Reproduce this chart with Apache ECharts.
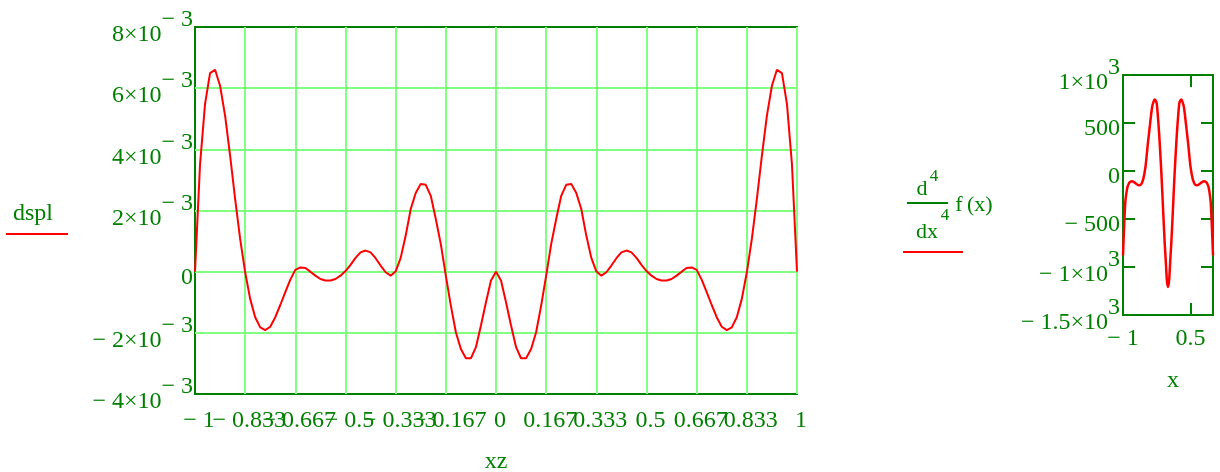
<!DOCTYPE html>
<html>
<head>
<meta charset="utf-8">
<title>dspl</title>
<script src="https://cdn.jsdelivr.net/npm/echarts@6/dist/echarts.min.js"></script>
<style>
  html, body { margin: 0; padding: 0; background: #ffffff; }
  #chart { width: 1220px; height: 472px; }
</style>
</head>
<body>
<div id="chart"></div>
<script>
// Range variable xz = -1, -1 + 1/60 .. 1
const xz = [
  -1, -0.9833, -0.9667, -0.95, -0.9333, -0.9167, -0.9, -0.8833, -0.8667, -0.85,
  -0.8333, -0.8167, -0.8, -0.7833, -0.7667, -0.75, -0.7333, -0.7167, -0.7, -0.6833,
  -0.6667, -0.65, -0.6333, -0.6167, -0.6, -0.5833, -0.5667, -0.55, -0.5333, -0.5167,
  -0.5, -0.4833, -0.4667, -0.45, -0.4333, -0.4167, -0.4, -0.3833, -0.3667, -0.35,
  -0.3333, -0.3167, -0.3, -0.2833, -0.2667, -0.25, -0.2333, -0.2167, -0.2, -0.1833,
  -0.1667, -0.15, -0.1333, -0.1167, -0.1, -0.0833, -0.0667, -0.05, -0.0333, -0.0167,
  0,
  0.0167, 0.0333, 0.05, 0.0667, 0.0833, 0.1, 0.1167, 0.1333, 0.15, 0.1667,
  0.1833, 0.2, 0.2167, 0.2333, 0.25, 0.2667, 0.2833, 0.3, 0.3167, 0.3333,
  0.35, 0.3667, 0.3833, 0.4, 0.4167, 0.4333, 0.45, 0.4667, 0.4833, 0.5,
  0.5167, 0.5333, 0.55, 0.5667, 0.5833, 0.6, 0.6167, 0.6333, 0.65, 0.6667,
  0.6833, 0.7, 0.7167, 0.7333, 0.75, 0.7667, 0.7833, 0.8, 0.8167, 0.8333,
  0.85, 0.8667, 0.8833, 0.9, 0.9167, 0.9333, 0.95, 0.9667, 0.9833, 1
];

// dspl(xz), in units of 1e-3
const dsplMilli = [
  0, 3.50, 5.48, 6.49, 6.60, 6.08, 5.10, 3.79, 2.38, 1.07,
  -0.02, -0.89, -1.49, -1.82, -1.91, -1.80, -1.49, -1.09, -0.67, -0.26,
  0.06, 0.14, 0.12, 0.00, -0.13, -0.24, -0.29, -0.29, -0.24, -0.13,
  0.02, 0.22, 0.45, 0.63, 0.69, 0.63, 0.44, 0.20, -0.02, -0.13,
  0.01, 0.45, 1.18, 2.05, 2.57, 2.87, 2.84, 2.48, 1.72, 0.90,
  -0.13, -1.11, -1.98, -2.53, -2.83, -2.83, -2.47, -1.76, -1.00, -0.29,
  0.00,
  -0.29, -1.00, -1.76, -2.47, -2.83, -2.83, -2.53, -1.98, -1.11, -0.13,
  0.90, 1.72, 2.48, 2.84, 2.87, 2.57, 2.05, 1.18, 0.45, 0.01,
  -0.13, -0.02, 0.20, 0.44, 0.63, 0.69, 0.63, 0.45, 0.22, 0.02,
  -0.13, -0.24, -0.29, -0.29, -0.24, -0.13, 0.00, 0.12, 0.14, 0.06,
  -0.26, -0.67, -1.09, -1.49, -1.80, -1.91, -1.82, -1.49, -0.89, -0.02,
  1.07, 2.38, 3.79, 5.10, 6.08, 6.60, 6.49, 5.48, 3.50, 0
];

const xzTickLabels = ['\u2212 1', '\u2212 0.833', '\u2212 0.667', '\u2212 0.5', '\u2212 0.333', '\u2212 0.167', '0',
  '0.167', '0.333', '0.5', '0.667', '0.833', '1'];
const dsplTickMantissa = ['\u2212 4\u00d710', '\u2212 2\u00d710', '0', '2\u00d710', '4\u00d710', '6\u00d710', '8\u00d710'];
const dsplTickExponent = ['\u2212 3', '\u2212 3', '', '\u2212 3', '\u2212 3', '\u2212 3', '\u2212 3'];

// Fourth derivative of f, sampled over x in [-1, 1]
const x = [
  -1, -0.975, -0.95, -0.925, -0.9, -0.875, -0.85, -0.8, -0.75, -0.7, -0.65, -0.6,
  -0.55, -0.5, -0.45, -0.4, -0.375, -0.35, -0.325, -0.3, -0.275, -0.25, -0.225, -0.2,
  -0.175, -0.15, -0.125, -0.1, -0.075, -0.05, -0.025, 0,
  0.025, 0.05, 0.075, 0.1, 0.125, 0.15, 0.175, 0.2, 0.225, 0.25, 0.275, 0.3,
  0.325, 0.35, 0.375, 0.4, 0.45, 0.5, 0.55, 0.6, 0.65, 0.7, 0.75, 0.8,
  0.85, 0.875, 0.9, 0.925, 0.95, 0.975, 1
];
const f4 = [
  -880, -580, -330, -230, -165, -135, -118, -108, -118, -135, -148, -140,
  -85, 45, 275, 485, 588, 675, 715, 744, 735, 702, 570, 410,
  215, 0, -240, -495, -735, -935, -1140, -1208,
  -1140, -935, -735, -495, -240, 0, 215, 410, 570, 702, 735, 744,
  715, 675, 588, 485, 275, 45, -85, -140, -148, -135, -118, -108,
  -118, -135, -165, -230, -330, -580, -880
];

const f4TickMantissa = ['\u2212 1.5\u00d710', '\u2212 1\u00d710', '\u2212 500', '0', '500', '1\u00d710'];
const f4TickExponent = ['3', '3', '', '', '', '3'];
const f4XTicks = [-1, 0.5];
const f4XTickLabels = ['\u2212 1', '0.5'];

const FONT = 'Liberation Serif';
const GREEN = '#008000';
const GRID_GREEN = '#80ff80';
const RED = '#ff0000';

// mantissa sits a little below the tick, exponent raised above it
const richLabels = {
  m: { fontFamily: FONT, fontSize: 24, color: GREEN, lineHeight: 40, padding: [0, 0, 0, 0], verticalAlign: 'bottom' },
  s: { fontFamily: FONT, fontSize: 24, color: GREEN, lineHeight: 40, padding: [0, 0, 15, 0], verticalAlign: 'bottom' },
  z: { fontFamily: FONT, fontSize: 24, color: GREEN, lineHeight: 40, padding: [0, 0, 2, 0], verticalAlign: 'bottom' }
};

function sciLabel(mant, exp) {
  return exp ? '{m|' + mant + '}{s|' + exp + '}' : '{z|' + mant + '}';
}

const chart = echarts.init(document.getElementById('chart'), null, { renderer: 'canvas' });

const tickStyle = { show: true, inside: true, length: 12, lineStyle: { color: GREEN, width: 2 } };
const noLine = { show: false, onZero: false };
const xzLabelStyle = { margin: 15, fontFamily: FONT, fontSize: 24, color: GREEN, padding: [0, 0, 0, 8] };

chart.setOption({
  animation: false,
  backgroundColor: '#ffffff',
  textStyle: { fontFamily: FONT },
  grid: [
    { left: 195, top: 27, width: 602, height: 367, show: true, borderColor: GREEN, borderWidth: 2,
      backgroundColor: 'transparent', containLabel: false, outerBoundsMode: 'none' },
    { left: 1123, top: 75, width: 90, height: 240, show: true, borderColor: GREEN, borderWidth: 2,
      backgroundColor: 'transparent', containLabel: false, outerBoundsMode: 'none' }
  ],
  xAxis: [
    {
      // xz axis: grid lines and every tick label but the leftmost
      gridIndex: 0, type: 'value', min: -1, max: 1, interval: 1 / 6,
      axisLine: noLine, axisTick: { show: false },
      splitLine: { show: true, showMinLine: false, showMaxLine: false, lineStyle: { color: GRID_GREEN, width: 2 } },
      axisLabel: Object.assign({
        showMinLabel: false, showMaxLabel: true,
        formatter: function (v) { return xzTickLabels[Math.round((v + 1) * 6)]; }
      }, xzLabelStyle),
      name: 'xz', nameLocation: 'middle', nameGap: 56,
      nameTextStyle: { fontFamily: FONT, fontSize: 24, color: GREEN }
    },
    {
      gridIndex: 1, type: 'value', min: -1, max: 1, position: 'bottom',
      axisLine: noLine, splitLine: { show: false },
      axisTick: Object.assign({ customValues: f4XTicks }, tickStyle),
      axisLabel: {
        customValues: f4XTicks, margin: 12, fontFamily: FONT, fontSize: 24, color: GREEN,
        showMinLabel: true, showMaxLabel: true,
        formatter: function (v) { return f4XTickLabels[f4XTicks.indexOf(v)]; }
      },
      name: 'x', nameLocation: 'middle', nameGap: 54,
      nameTextStyle: { fontFamily: FONT, fontSize: 24, color: GREEN, padding: [0, 0, 0, 10] }
    },
    {
      gridIndex: 1, type: 'value', min: -1, max: 1, position: 'top',
      axisLine: noLine, splitLine: { show: false },
      axisTick: Object.assign({ customValues: f4XTicks }, tickStyle),
      axisLabel: { show: false }
    },
    {
      // xz axis: the leftmost tick label, kept even where it overlaps its neighbour
      gridIndex: 0, type: 'value', min: -1, max: 1, position: 'bottom',
      axisLine: noLine, axisTick: { show: false }, splitLine: { show: false },
      axisLabel: Object.assign({
        customValues: [-1], showMinLabel: true,
        formatter: function (v) { return xzTickLabels[Math.round((v + 1) * 6)]; }
      }, xzLabelStyle)
    }
  ],
  yAxis: [
    {
      gridIndex: 0, type: 'value', min: -0.004, max: 0.008, interval: 0.002,
      axisLine: noLine, axisTick: { show: false },
      splitLine: { show: true, showMinLine: false, showMaxLine: false, lineStyle: { color: GRID_GREEN, width: 2 } },
      axisLabel: {
        margin: 2, rich: richLabels, showMinLabel: true, showMaxLabel: true,
        formatter: function (v) {
          const i = Math.round((v + 0.004) / 0.002);
          return sciLabel(dsplTickMantissa[i], dsplTickExponent[i]);
        }
      }
    },
    {
      gridIndex: 1, type: 'value', min: -1500, max: 1000, interval: 500, position: 'left',
      axisLine: noLine, splitLine: { show: false },
      axisTick: tickStyle,
      axisLabel: {
        margin: 3, rich: richLabels, showMinLabel: true, showMaxLabel: true,
        formatter: function (v) {
          const i = Math.round((v + 1500) / 500);
          return sciLabel(f4TickMantissa[i], f4TickExponent[i]);
        }
      }
    },
    {
      gridIndex: 1, type: 'value', min: -1500, max: 1000, interval: 500, position: 'right',
      axisLine: noLine, splitLine: { show: false },
      axisTick: tickStyle, axisLabel: { show: false }
    }
  ],
  series: [
    {
      type: 'line', xAxisIndex: 0, yAxisIndex: 0, showSymbol: false, smooth: false,
      lineStyle: { color: RED, width: 2 },
      data: xz.map(function (v, i) { return [v, dsplMilli[i] * 1e-3]; }),
      z: 3
    },
    {
      type: 'line', xAxisIndex: 1, yAxisIndex: 1, showSymbol: false, smooth: 0.25,
      lineStyle: { color: RED, width: 2.5 },
      data: x.map(function (v, i) { return [v, f4[i]]; }),
      z: 3
    }
  ],
  graphic: [
    // trace label of the left plot
    { type: 'text', x: 33, y: 214, style: { text: 'dspl', font: '24px "' + FONT + '"', fill: GREEN, align: 'center', verticalAlign: 'middle' } },
    { type: 'line', shape: { x1: 6, y1: 234, x2: 68, y2: 234 }, style: { stroke: RED, lineWidth: 2 } },
    // trace label of the right plot: d^4/dx^4 f(x)
    { type: 'text', x: 922, y: 189, style: { text: 'd', font: '22px "' + FONT + '"', fill: GREEN, align: 'center', verticalAlign: 'middle' } },
    { type: 'text', x: 934, y: 177, style: { text: '4', font: '17px "' + FONT + '"', fill: GREEN, align: 'center', verticalAlign: 'middle' } },
    { type: 'line', shape: { x1: 907, y1: 203, x2: 948, y2: 203 }, style: { stroke: GREEN, lineWidth: 2 } },
    { type: 'text', x: 927, y: 232, style: { text: 'dx', font: '22px "' + FONT + '"', fill: GREEN, align: 'center', verticalAlign: 'middle' } },
    { type: 'text', x: 945, y: 216, style: { text: '4', font: '17px "' + FONT + '"', fill: GREEN, align: 'center', verticalAlign: 'middle' } },
    { type: 'text', x: 974, y: 205, style: { text: 'f\u2009(x)', font: '22px "' + FONT + '"', fill: GREEN, align: 'center', verticalAlign: 'middle' } },
    { type: 'line', shape: { x1: 903, y1: 252, x2: 963, y2: 252 }, style: { stroke: RED, lineWidth: 2 } }
  ]
});
</script>
</body>
</html>
